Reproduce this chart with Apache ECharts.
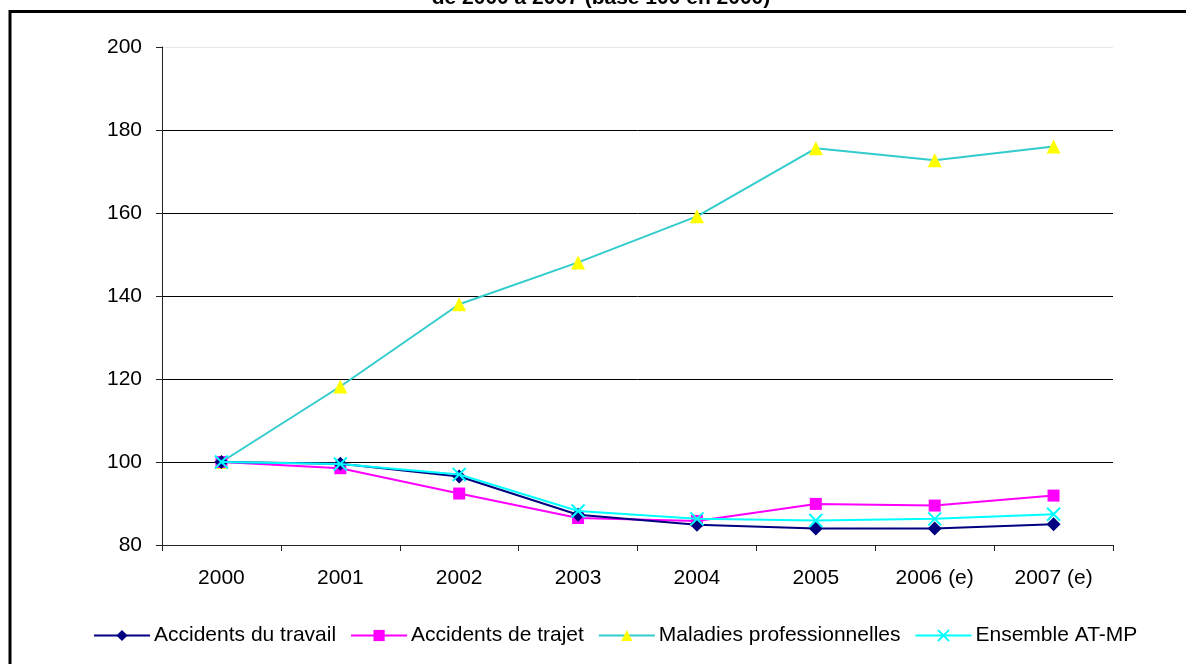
<!DOCTYPE html>
<html>
<head>
<meta charset="utf-8">
<script src="https://cdn.jsdelivr.net/npm/echarts@6/dist/echarts.min.js"></script>
<style>
html,body{margin:0;padding:0;background:#fff;}
#chart{width:1186px;height:664px;}
</style>
</head>
<body>
<div id="chart"></div>
<script>
const categories = ['2000', '2001', '2002', '2003', '2004', '2005', '2006 (e)', '2007 (e)'];
const accidentsTravail = [100, 99.6, 96.5, 87.3, 84.9, 84.0, 84.0, 85.0];
const accidentsTrajet = [100, 98.5, 92.4, 86.5, 85.8, 89.9, 89.5, 91.9];
const maladiesPro = [100, 118.2, 138.0, 148.1, 159.2, 175.6, 172.7, 176.0];
const ensembleATMP = [100, 99.5, 97.0, 88.2, 86.3, 85.9, 86.3, 87.4];
const seriesNames = ['Accidents du travail', 'Accidents de trajet', 'Maladies professionnelles', 'Ensemble AT-MP'];
const yTicks = { min: 80, max: 200, interval: 20 };
const titleText = 'de 2000 à 2007 (base 100 en 2000)';

const chart = echarts.init(document.getElementById('chart'), null, { renderer: 'canvas' });
const font = 'Liberation Sans, Arial, sans-serif';
const xPath = 'path://M0,0L10,10M0,10L10,0';

chart.setOption({
  animation: false,
  backgroundColor: '#fff',
  textStyle: { fontFamily: font },
  graphic: [
    { type: 'rect', shape: { x: 10, y: 11.5, width: 1300, height: 800 },
      style: { fill: 'none', stroke: '#000', lineWidth: 3 }, z: 100 },
    { type: 'text', x: 601, y: -12,
      style: { text: titleText, font: 'bold 21px Liberation Sans, Arial, sans-serif', fill: '#000', align: 'center', verticalAlign: 'top' } }
  ],
  grid: { left: 162, right: 73, top: 47, bottom: 119 },
  legend: {
    data: seriesNames,
    bottom: 13,
    left: 88,
    itemWidth: 56,
    itemHeight: 14,
    itemGap: 14,
    textStyle: { fontSize: 21, color: '#000', fontFamily: font, padding: [0, 0, 0, -1] }
  },
  xAxis: {
    type: 'category',
    data: categories,
    boundaryGap: true,
    axisLine: { lineStyle: { color: '#222', width: 1 } },
    axisTick: { show: true, length: 6, lineStyle: { color: '#222' } },
    axisLabel: { fontSize: 21, color: '#000', margin: 23, fontFamily: font },
    splitLine: { show: false }
  },
  yAxis: {
    type: 'value',
    min: yTicks.min,
    max: yTicks.max,
    interval: yTicks.interval,
    axisLine: { show: true, lineStyle: { color: '#222', width: 1 } },
    axisTick: { show: true, length: 6, lineStyle: { color: '#222' } },
    axisLabel: { fontSize: 21, color: '#000', margin: 20, fontFamily: font },
    splitLine: { show: true, lineStyle: { color: ['#000', '#000', '#000', '#000', '#000', '#000', '#e6e6e6'], width: 1 } }
  },
  series: [
    { name: seriesNames[0], type: 'line', data: accidentsTravail, symbol: 'diamond', symbolSize: 14,
      lineStyle: { color: '#000080', width: 2 }, itemStyle: { color: '#000080' }, z: 3 },
    { name: seriesNames[1], type: 'line', data: accidentsTrajet, symbol: 'rect', symbolSize: 12,
      lineStyle: { color: '#FF00FF', width: 2 }, itemStyle: { color: '#FF00FF' }, z: 2 },
    { name: seriesNames[2], type: 'line', data: maladiesPro, symbol: 'triangle', symbolSize: 14,
      lineStyle: { color: '#33CCCC', width: 2 }, itemStyle: { color: '#FFFF00' }, z: 1 },
    { name: seriesNames[3], type: 'line', data: ensembleATMP, symbol: xPath, symbolSize: 13,
      lineStyle: { color: '#00FFFF', width: 2 }, itemStyle: { color: '#00FFFF', borderColor: '#00FFFF', borderWidth: 2 }, z: 4 }
  ]
});
</script>
</body>
</html>
